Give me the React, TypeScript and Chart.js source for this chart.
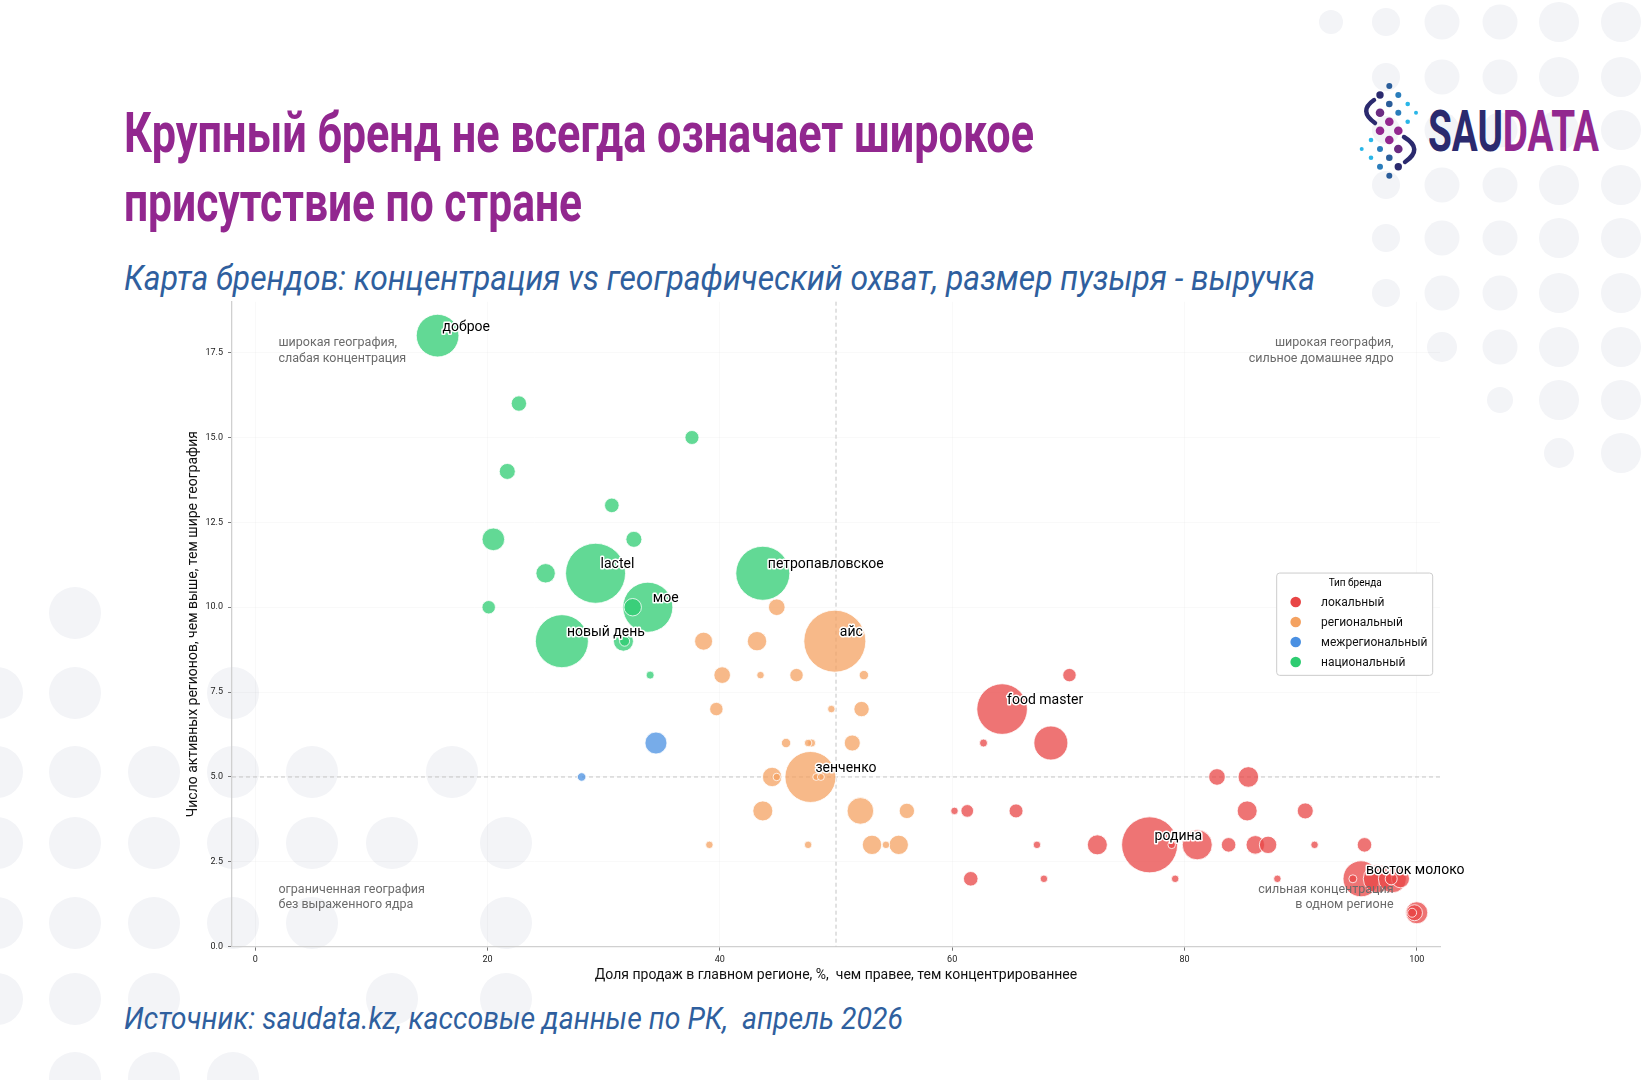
import React, { useEffect, useRef } from 'react';
import { Chart, registerables } from 'chart.js';

Chart.register(...registerables);

// ---------- DATA ----------
const BRAND_TYPES = ['локальный', 'региональный', 'межрегиональный', 'национальный'];
const TYPE_COLORS = ['#E84545', '#F4A261', '#4A90E2', '#2ECC71'];

// локальный: share of sales in main region (%), active regions, revenue (conv. units), label
const localShare = [70.1, 64.3, 62.7, 68.5, 60.2, 61.3, 65.5, 67.3, 72.5, 77.0, 61.6, 67.9, 82.8, 85.5, 85.4, 90.4, 78.9, 81.1, 83.8, 86.1, 87.2, 91.2, 95.5, 79.2, 88.0, 95.2, 94.5, 96.6, 97.9, 98.6, 97.8, 100, 99.8, 99.6];
const localRegions = [8, 7, 6, 6, 4, 4, 4, 3, 3, 3, 2, 2, 5, 5, 4, 4, 3, 3, 3, 3, 3, 3, 3, 2, 2, 2, 2, 2, 2, 2, 2, 1, 1, 1];
const localRevenue = [45, 640, 16, 289, 14, 40, 49, 14, 100, 784, 53, 14, 69, 106, 100, 64, 14, 225, 53, 86, 76, 14, 53, 14, 14, 324, 16, 196, 196, 81, 36, 121, 64, 20];
const localNames = ['', 'food master', '', '', '', '', '', '', '', 'родина', '', '', '', '', '', '', '', '', '', '', '', '', '', '', '', 'восток молоко', '', '', '', '', '', '', '', ''];

// региональный
const regionalShare = [44.9, 49.9, 38.6, 43.2, 40.2, 43.5, 46.6, 52.4, 39.7, 49.6, 52.2, 45.7, 47.6, 47.9, 51.4, 47.8, 44.5, 44.9, 48.3, 48.7, 43.7, 52.1, 56.1, 39.1, 47.6, 53.1, 54.3, 55.4];
const regionalRegions = [10, 9, 9, 9, 8, 8, 8, 8, 7, 7, 7, 6, 6, 6, 6, 5, 5, 5, 5, 5, 4, 4, 4, 3, 3, 3, 3, 3];
const regionalRevenue = [69, 961, 81, 94, 69, 14, 45, 22, 45, 14, 59, 22, 14, 16, 64, 650, 94, 14, 12, 12, 100, 177, 59, 14, 14, 94, 14, 94];
const regionalNames = ['', 'айс', '', '', '', '', '', '', '', '', '', '', '', '', '', 'зенченко', '', '', '', '', '', '', '', '', '', '', '', ''];

// межрегиональный
const interShare = [34.5, 28.1];
const interRegions = [6, 5];
const interRevenue = [121, 18];
const interNames = ['', ''];

// национальный
const nationalShare = [15.7, 22.7, 21.7, 30.7, 20.5, 32.6, 25.0, 29.3, 20.1, 33.8, 32.5, 26.4, 31.7, 31.8, 34.0, 37.6, 43.7];
const nationalRegions = [18, 16, 14, 13, 12, 12, 11, 11, 10, 10, 10, 9, 9, 9, 8, 15, 11];
const nationalRevenue = [455, 59, 64, 53, 128, 64, 94, 900, 45, 625, 76, 702, 100, 25, 16, 49, 729];
const nationalNames = ['доброе', '', '', '', '', '', '', 'lactel', '', 'мое', '', 'новый день', '', '', '', '', 'петропавловское'];

const X_TICKS = [0, 20, 40, 60, 80, 100];
const Y_TICKS = [0, 2.5, 5, 7.5, 10, 12.5, 15, 17.5];
const X_RANGE = [-2, 102];
const Y_RANGE = [0, 19];
const SPLIT_X = 50;
const SPLIT_Y = 5;

const X_TITLE = 'Доля продаж в главном регионе, %,  чем правее, тем концентрированнее';
const Y_TITLE = 'Число активных регионов, чем выше, тем шире география';
const LEGEND_TITLE = 'Тип бренда';

const QUADRANT_NOTES = [
  { x: 2, y: 18, align: 'left', va: 'top', lines: ['широкая география,', 'слабая концентрация'] },
  { x: 98, y: 18, align: 'right', va: 'top', lines: ['широкая география,', 'сильное домашнее ядро'] },
  { x: 2, y: 1, align: 'left', va: 'bottom', lines: ['ограниченная география', 'без выраженного ядра'] },
  { x: 98, y: 1, align: 'right', va: 'bottom', lines: ['сильная концентрация', 'в одном регионе'] },
];

const TITLE_LINES = ['Крупный бренд не всегда означает широкое', 'присутствие по стране'];
const SUBTITLE = 'Карта брендов: концентрация vs географический охват, размер пузыря - выручка';
const SOURCE = 'Источник: saudata.kz, кассовые данные по РК,  апрель 2026';

// ---------- STYLE ----------
const BUBBLE_SCALE = 1; // px radius per sqrt(revenue unit)
const FONT = 'Roboto';

function hexA(hex: string, a: number) {
  const n = parseInt(hex.slice(1), 16);
  return `rgba(${(n >> 16) & 255},${(n >> 8) & 255},${n & 255},${a})`;
}

function buildDataset(label: string, color: string, xs: number[], ys: number[], rev: number[], names: string[]) {
  const idx = xs.map((_, i) => i).sort((a, b) => rev[b] - rev[a]);
  return {
    label,
    data: idx.map(i => ({ x: xs[i], y: ys[i], r: Math.sqrt(rev[i]) * BUBBLE_SCALE, name: names[i] })),
    backgroundColor: hexA(color, 0.75),
    borderColor: '#ffffff',
    borderWidth: 0.8,
    legendColor: color,
  };
}

const overlayPlugin = {
  id: 'overlay',
  beforeDatasetsDraw(chart: any) {
    const { ctx, chartArea: ca, scales } = chart;
    const x = scales.x, y = scales.y;
    ctx.save();
    ctx.strokeStyle = '#c4c4c4';
    ctx.lineWidth = 1;
    ctx.setLineDash([4, 3]);
    const vx = x.getPixelForValue(SPLIT_X);
    ctx.beginPath(); ctx.moveTo(vx, ca.top); ctx.lineTo(vx, ca.bottom); ctx.stroke();
    const hy = y.getPixelForValue(SPLIT_Y);
    ctx.beginPath(); ctx.moveTo(ca.left, hy); ctx.lineTo(ca.right, hy); ctx.stroke();
    ctx.restore();
  },
  afterDatasetsDraw(chart: any) {
    const { ctx, chartArea: ca, scales } = chart;
    const x = scales.x, y = scales.y;
    ctx.save();
    // quadrant notes
    ctx.font = `12.5px ${FONT}`;
    ctx.fillStyle = '#6b6b6b';
    ctx.textBaseline = 'alphabetic';
    const lh = 15.7;
    QUADRANT_NOTES.forEach(n => {
      const px = x.getPixelForValue(n.x);
      const py = y.getPixelForValue(n.y);
      ctx.textAlign = n.align;
      n.lines.forEach((t, i) => {
        const by = n.va === 'top' ? py + 10.3 + i * lh : py - 4.4 - (n.lines.length - 1 - i) * lh;
        ctx.fillText(t, px, by);
      });
    });
    // bubble labels
    ctx.font = `14px ${FONT}`;
    ctx.textAlign = 'left';
    ctx.textBaseline = 'alphabetic';
    ctx.lineJoin = 'round';
    chart.data.datasets.forEach((ds: any, di: number) => {
      const meta = chart.getDatasetMeta(di);
      ds.data.forEach((p: any, i: number) => {
        if (!p.name) return;
        const el = meta.data[i];
        const tx = el.x + 5, ty = el.y - 5;
        ctx.strokeStyle = '#ffffff';
        ctx.lineWidth = 3;
        ctx.strokeText(p.name, tx, ty);
        ctx.fillStyle = '#000000';
        ctx.fillText(p.name, tx, ty);
      });
    });
    // legend (center right)
    const w = 156, h = 102.3;
    const lx = ca.right - 7.3 - w;
    const ly = (ca.top + ca.bottom) / 2 - h / 2;
    ctx.beginPath();
    if (ctx.roundRect) ctx.roundRect(lx, ly, w, h, 3); else ctx.rect(lx, ly, w, h);
    ctx.fillStyle = 'rgba(255,255,255,0.85)';
    ctx.fill();
    ctx.strokeStyle = '#cccccc';
    ctx.lineWidth = 1;
    ctx.stroke();
    ctx.fillStyle = '#000';
    ctx.font = `10px ${FONT}`;
    ctx.textAlign = 'center';
    ctx.textBaseline = 'middle';
    ctx.fillText(LEGEND_TITLE, lx + w / 2 + 0.5, ly + 10.6);
    ctx.font = `12px ${FONT}`;
    ctx.textAlign = 'left';
    chart.data.datasets.forEach((ds: any, i: number) => {
      const cy = ly + 29 + i * 20;
      ctx.beginPath();
      ctx.arc(lx + 19, cy, 5.3, 0, Math.PI * 2);
      ctx.fillStyle = ds.legendColor;
      ctx.fill();
      ctx.fillStyle = '#111';
      ctx.fillText(ds.label, lx + 44.3, cy + 0.5);
    });
    ctx.restore();
  },
};

// ---------- DECOR ----------
const TR_CIRCLES: [number, number, number][] = [
  [1331, 22, 12],
  ...[22, 77, 130, 185, 238, 293].map(y => [1386, y, 14] as [number, number, number]),
  ...[22, 77, 130, 185, 238, 293].map(y => [1442, y, 17.5] as [number, number, number]),
  [1442, 347, 15],
  ...[22, 77, 130, 185, 238, 293, 347].map(y => [1500, y, 17.5] as [number, number, number]),
  [1500, 400, 13],
  ...[22, 77, 130, 185, 238, 293, 347, 400].map(y => [1559, y, 20] as [number, number, number]),
  [1559, 453, 15],
  ...[22, 77, 130, 185, 238, 293, 347, 400, 453].map(y => [1621, y, 20] as [number, number, number]),
];
const BL_ROWS: [number, number[]][] = [
  [613, [75]],
  [693, [-3, 75, 233]],
  [772, [-3, 75, 154, 233, 312, 452]],
  [843, [-3, 75, 154, 233, 312, 392, 506]],
  [923, [-3, 75, 154, 233, 312, 506]],
  [999, [-3, 75, 154, 392, 506]],
  [1078, [75, 154, 233]],
];
const LOGO_DOTS: [number, number, number, string][] = [
  [1389.3, 86, 3, '#2A5D9A'], [1380, 95, 3.7, '#2B2A6E'], [1398.3, 95, 3, '#2A7DBB'],
  [1407.7, 104, 2.3, '#29B6E8'], [1389.3, 104, 3.3, '#2A5D9A'], [1416, 112.7, 2, '#29B6E8'],
  [1398.3, 112.7, 3, '#2A7DBB'], [1380, 112.7, 4.3, '#6B2C82'], [1407.7, 121.7, 2.3, '#29B6E8'],
  [1389.3, 121.7, 4.3, '#92278F'], [1380, 130.7, 4.3, '#92278F'], [1398.3, 130.7, 4.3, '#92278F'],
  [1389.3, 140, 4.3, '#92278F'], [1398.3, 149, 4.3, '#6B2C82'], [1371, 140, 2.3, '#29B6E8'],
  [1361.7, 149, 2, '#29B6E8'], [1380, 149, 3, '#2A7DBB'], [1371, 157.7, 2.3, '#29B6E8'],
  [1389.3, 157.7, 3.3, '#2A5D9A'], [1380, 166.7, 3, '#2A7DBB'], [1398.3, 166.7, 3.7, '#2B2A6E'],
  [1389.3, 175.7, 3, '#2A5D9A'],
];

export default function App() {
  const canvasRef = useRef<HTMLCanvasElement>(null);

  useEffect(() => {
    const canvas = canvasRef.current;
    if (!canvas) return;
    Chart.defaults.font.family = FONT;
    const datasets = [
      buildDataset(BRAND_TYPES[0], TYPE_COLORS[0], localShare, localRegions, localRevenue, localNames),
      buildDataset(BRAND_TYPES[1], TYPE_COLORS[1], regionalShare, regionalRegions, regionalRevenue, regionalNames),
      buildDataset(BRAND_TYPES[2], TYPE_COLORS[2], interShare, interRegions, interRevenue, interNames),
      buildDataset(BRAND_TYPES[3], TYPE_COLORS[3], nationalShare, nationalRegions, nationalRevenue, nationalNames),
    ];
    const chart = new Chart(canvas, {
      type: 'bubble',
      data: { datasets } as any,
      options: {
        responsive: false,
        animation: false,
        events: [],
        layout: { padding: { left: 172, top: 301.7, right: 210, bottom: 83.3 } },
        plugins: { legend: { display: false }, tooltip: { enabled: false } },
        scales: {
          x: {
            type: 'linear',
            min: X_RANGE[0],
            max: X_RANGE[1],
            afterBuildTicks: (s: any) => { s.ticks = X_TICKS.map(v => ({ value: v })); },
            afterFit: (s: any) => { s.height = 50; },
            grid: { color: 'rgba(0,0,0,0.022)', tickColor: '#555', tickLength: 4, tickWidth: 0.8 },
            border: { display: true, color: '#d0d0d0', width: 1.3 },
            ticks: { font: { size: 9, family: FONT }, color: '#222', padding: 4, maxRotation: 0, autoSkip: false },
            title: { display: true, text: X_TITLE, font: { size: 14, family: FONT }, color: '#111', padding: { top: 0, bottom: 12.8 } },
          },
          y: {
            type: 'linear',
            min: Y_RANGE[0],
            max: Y_RANGE[1],
            afterBuildTicks: (s: any) => { s.ticks = Y_TICKS.map(v => ({ value: v })); },
            afterFit: (s: any) => { s.width = 60; },
            grid: { color: 'rgba(0,0,0,0.022)', tickColor: '#555', tickLength: 4, tickWidth: 0.8 },
            border: { display: true, color: '#d0d0d0', width: 1.3 },
            ticks: { font: { size: 9, family: FONT }, color: '#222', padding: 5, callback: (v: any) => Number(v).toFixed(1) },
            title: { display: true, text: Y_TITLE, font: { size: 14, family: FONT }, color: '#111', padding: { top: 13.2, bottom: 0 } },
          },
        },
      } as any,
      plugins: [overlayPlugin as any],
    });
    return () => chart.destroy();
  }, []);

  return (
    <div style={{ position: 'absolute', left: 0, top: 0, width: 1650, height: 1080, background: '#ffffff', overflow: 'hidden' }}>
      <svg width={1650} height={1080} style={{ position: 'absolute', left: 0, top: 0 }}>
        {TR_CIRCLES.map(([cx, cy, r], i) => <circle key={'tr' + i} cx={cx} cy={cy} r={r} fill="#F3F4F7" />)}
        {BL_ROWS.flatMap(([cy, xs], j) => xs.map((cx, i) => <circle key={`bl${j}-${i}`} cx={cx} cy={cy} r={26} fill="#F3F4F7" />))}
        <text x={124} y={152} textLength={910} lengthAdjust="spacingAndGlyphs" fontFamily={FONT} fontWeight={700} fontSize={55} fill="#92278F">{TITLE_LINES[0]}</text>
        <text x={124} y={221} textLength={458} lengthAdjust="spacingAndGlyphs" fontFamily={FONT} fontWeight={700} fontSize={55} fill="#92278F">{TITLE_LINES[1]}</text>
        <text x={124} y={290} textLength={1191} lengthAdjust="spacingAndGlyphs" fontFamily={FONT} fontStyle="italic" fontSize={35} fill="#2F5F9E">{SUBTITLE}</text>
        <text x={124} y={1029} textLength={779} lengthAdjust="spacingAndGlyphs" fontFamily={FONT} fontStyle="italic" fontSize={30.5} fill="#2F5F9E" style={{ whiteSpace: 'pre' }}>{SOURCE}</text>
        {/* logo */}
        <path d="M 1374 100 Q 1358 111 1375 123" stroke="#2B2A6E" strokeWidth={4.5} fill="none" strokeLinecap="round" />
        <path d="M 1404 137 Q 1424 149 1405 162" stroke="#2B2A6E" strokeWidth={4.5} fill="none" strokeLinecap="round" />
        {LOGO_DOTS.map(([cx, cy, r, c], i) => <circle key={'ld' + i} cx={cx} cy={cy} r={r} fill={c} />)}
        <text x={1428} y={150.7} textLength={171} lengthAdjust="spacingAndGlyphs" fontFamily={FONT} fontWeight={700} fontSize={57}>
          <tspan fill="#2B2A6E">SAU</tspan><tspan fill="#92278F">DATA</tspan>
        </text>
      </svg>
      <canvas ref={canvasRef} width={1650} height={1080} style={{ position: 'absolute', left: 0, top: 0, width: 1650, height: 1080 }} />
    </div>
  );
}
